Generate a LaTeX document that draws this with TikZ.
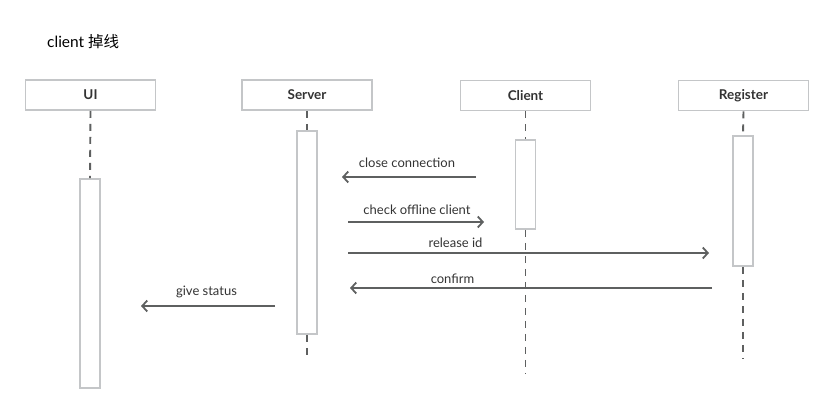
\documentclass[tikz,border=0pt]{standalone}
\usepackage{fontspec}
\setmainfont{Lato}
\newfontfamily\cjk{Noto Sans CJK SC}
\usetikzlibrary{arrows.meta}
\definecolor{boxgray}{HTML}{C4C6C8}
\definecolor{linegray}{HTML}{5E6060}
\definecolor{txt}{HTML}{333333}
\begin{document}
\begin{tikzpicture}[x=1pt,y=-1pt,
 head/.style={draw=boxgray,line width=1.6pt,minimum width=130pt,minimum height=30pt,inner sep=0pt,font=\fontsize{13.5}{15}\selectfont\bfseries,text=txt},
 act/.style={draw=boxgray,line width=1.6pt,fill=white,minimum width=20pt,inner sep=0pt},
 life/.style={draw=linegray,line width=1.9pt,dash pattern=on 7pt off 6pt},
 msg/.style={draw=linegray,line width=1.8pt,-{Straight Barb[length=5pt,width=11pt,line width=1.8pt]}},
 lbl/.style={font=\fontsize{13}{15}\selectfont,text=txt,inner sep=0pt}]
\useasboundingbox (0,0) rectangle (825,414);
\node[anchor=west,font=\fontsize{15.5}{18}\selectfont,text=black,inner sep=0pt] (title) at (47,42) {client {\cjk 掉线}};
% headers
\node[head] (ui) at (90.5,95) {UI};
\node[head] (server) at (307,95) {Server};
\node[head] (client) at (525.5,95.5) {Client};
\node[head] (reg) at (743.5,95.5) {Register};
% activation bars
\node[act,minimum height=209pt] (uiact) at (90,283.5) {};
\node[act,minimum height=203pt] (srvact) at (307,232.5) {};
\node[act,minimum height=89pt] (cliact) at (525.5,184.5) {};
\node[act,minimum height=130pt] (regact) at (743,201) {};
% lifeline ends
\coordinate (srvend) at (307,359);
\coordinate (cliend) at (525.5,374);
\coordinate (regend) at (743,359);
% lifelines
\draw[life] (ui.south) -- (uiact.north);
\draw[life] (server.south) -- (srvact.north);
\draw[life] (srvact.south) -- (srvend);
\draw[life] (client.south) -- (cliact.north);
\draw[life] (cliact.south) -- (cliend);
\draw[life] (reg.south) -- (regact.north);
\draw[life] (regact.south) -- (regend);
% message coordinates
\coordinate (m1s) at (476,177); \coordinate (m1e) at (342,177);
\coordinate (m2s) at (348,222); \coordinate (m2e) at (484,222);
\coordinate (m3s) at (348,253); \coordinate (m3e) at (709,253);
\coordinate (m4s) at (712,288); \coordinate (m4e) at (350,288);
\coordinate (m5s) at (275,306); \coordinate (m5e) at (141,306);
\draw[msg] (m1s) -- (m1e);
\draw[msg] (m2s) -- (m2e);
\draw[msg] (m3s) -- (m3e);
\draw[msg] (m4s) -- (m4e);
\draw[msg] (m5s) -- (m5e);
% labels
\node[lbl] (l1) at (407,163) {close connection};
\node[lbl] (l2) at (417,210) {check offline client};
\node[lbl] (l3) at (455.5,243) {release id};
\node[lbl] (l4) at (452.5,279) {confirm};
\node[lbl] (l5) at (206.5,292) {give status};
\end{tikzpicture}
\end{document}
